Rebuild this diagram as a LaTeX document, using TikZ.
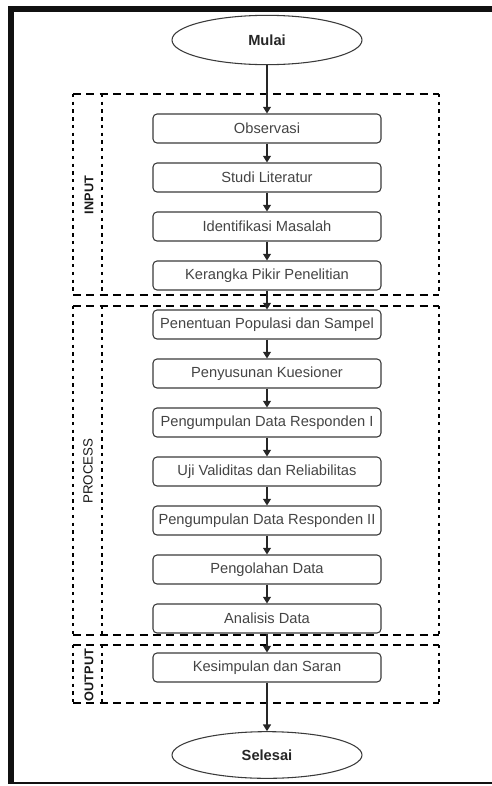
\documentclass[tikz,border=0pt]{standalone}
\usepackage{fontspec}
\setmainfont{Liberation Sans}
\usetikzlibrary{shapes.geometric, arrows.meta, positioning}
\definecolor{framedark}{HTML}{111111}
\definecolor{boxtext}{HTML}{444444}
\definecolor{boxline}{HTML}{3A3A3A}

\tikzset{
  stepbox/.style={draw=boxline, line width=0.8pt, rounded corners=3pt, minimum width=171pt, minimum height=21.75pt, inner xsep=1pt, text=boxtext, font=\fontsize{11}{11}\selectfont},
  terminal/.style={ellipse, draw=boxline, line width=0.8pt, minimum width=142.5pt, minimum height=37pt, inner sep=0pt, text=black!85, font=\fontsize{11}{11}\selectfont\bfseries},
  flow/.style={draw=black!85, line width=0.8pt, -{Triangle[width=6pt,length=5pt]}},
  lanedash/.style={line width=2pt, dash pattern=on 6pt off 4pt},
  lanedot/.style={line width=1.8pt, dash pattern=on 2.5pt off 3.3pt},
  lanelabel/.style={rotate=90, text=black!90, font=\fontsize{9.5}{9.5}\selectfont\bfseries}
}

\begin{document}
\begin{tikzpicture}[x=0.75pt, y=-0.75pt]
  \useasboundingbox (0,0) rectangle (492,786);

  % Outer frame (open on the right)
  \draw[framedark, line width=4pt, line join=miter] (492,9) -- (11,9) -- (11,784);
  \draw[framedark, line width=1.5pt] (11,783) -- (492,783);

  % Lanes
  \foreach \top/\bot in {94/295, 306/635, 645/703} {
    \draw[lanedash] (73,\top) -- (439,\top);
    \draw[lanedash] (73,\bot) -- (439,\bot);
    \draw[lanedot] (73,\top) -- (73,\bot);
    \draw[lanedot] (102,\top) -- (102,\bot);
    \draw[lanedot] (439,\top) -- (439,\bot);
  }
  \node[lanelabel] (input) at (89,195) {INPUT};
  \node[lanelabel, font=\fontsize{10}{10}\selectfont] (process) at (88,471) {PROCESS};
  \node[lanelabel] (output) at (89,675) {OUTPUT};

  % Start and end
  \node[terminal] (mulai) at (267,40) {Mulai};
  \node[terminal, minimum height=35pt] (selesai) at (267,755) {Selesai};

  % Steps
  \foreach \name/\ypos/\txt in {obs/128.5/Observasi, stu/177.5/Studi Literatur, idm/226.5/Identifikasi Masalah, kpp/275.5/Kerangka Pikir Penelitian, pps/324.5/Penentuan Populasi dan Sampel, psk/373.5/Penyusunan Kuesioner, pdra/422.5/Pengumpulan Data Responden I, uvr/471.5/Uji Validitas dan Reliabilitas, pdrb/520.5/Pengumpulan Data Responden II, pgd/569.5/Pengolahan Data, ans/618.5/Analisis Data, kds/667.5/Kesimpulan dan Saran} {
    \node[stepbox] (\name) at (267,\ypos) {\txt};
  }

  % Connectors
  \foreach \a/\b in {mulai/obs, obs/stu, stu/idm, idm/kpp, kpp/pps, pps/psk, psk/pdra, pdra/uvr, uvr/pdrb, pdrb/pgd, pgd/ans, ans/kds, kds/selesai} {
    \draw[flow] (\a) -- (\b);
  }
\end{tikzpicture}
\end{document}
